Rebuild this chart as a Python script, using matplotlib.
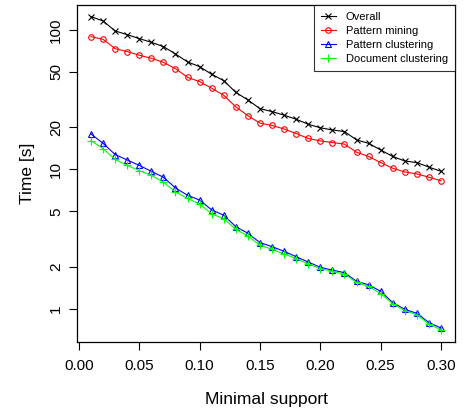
import matplotlib
matplotlib.use("Agg")
import matplotlib.pyplot as plt
from matplotlib.ticker import FixedLocator, NullLocator

plt.rcParams['font.family'] = ['Liberation Sans', 'DejaVu Sans']

# minimal support thresholds
support = [0.01, 0.02, 0.03, 0.04, 0.05, 0.06, 0.07, 0.08, 0.09, 0.10,
           0.11, 0.12, 0.13, 0.14, 0.15, 0.16, 0.17, 0.18, 0.19, 0.20,
           0.21, 0.22, 0.23, 0.24, 0.25, 0.26, 0.27, 0.28, 0.29, 0.30]

# running times in seconds
overall = [124.6, 116, 98.4, 92.6, 86.7, 81.6, 76, 67.3, 59, 54.6,
           48.1, 43.3, 35.7, 31.5, 27.3, 26, 24.5, 22.9, 21.1, 19.9,
           19.2, 18.7, 16.3, 15.4, 13.8, 12.4, 11.5, 11.2, 10.4, 9.7]
pattern_mining = [89.5, 85.7, 73.5, 70, 65.9, 62.7, 58.6, 52.8, 45.8, 42.6,
                  38.2, 34, 28.1, 24.3, 21.5, 20.7, 19.5, 18.1, 16.7, 16,
                  15.6, 15.2, 13.3, 12.4, 11.2, 10.2, 9.6, 9.3, 8.8, 8.3]
pattern_clustering = [17.97, 15.4, 12.8, 11.7, 10.7, 9.7, 8.8, 7.37, 6.53, 6.04,
                      5.13, 4.7, 3.89, 3.49, 2.99, 2.80, 2.59, 2.37, 2.17, 1.99,
                      1.90, 1.82, 1.58, 1.49, 1.34, 1.11, 0.995, 0.93, 0.80, 0.73]
document_clustering = [16.1, 14.1, 11.8, 10.7, 9.8, 9.1, 8.1, 6.9, 6.2, 5.66,
                       4.8, 4.44, 3.72, 3.34, 2.86, 2.68, 2.48, 2.30, 2.10, 1.95,
                       1.86, 1.78, 1.55, 1.45, 1.29, 1.09, 0.975, 0.91, 0.78, 0.71]

xticks = [0.00, 0.05, 0.10, 0.15, 0.20, 0.25, 0.30]
yticks = [1, 2, 5, 10, 20, 50, 100]

fig = plt.figure(figsize=(4.65, 4.12), dpi=100)
ax = fig.add_axes([77 / 465, 1 - 342 / 412, (455 - 77) / 465, (342 - 5) / 412])

lw = 0.8
ax.plot(support, overall, color='black', marker='x', ms=4, mew=0.8, lw=lw, label='Overall')
ax.plot(support, pattern_mining, color='#ff0000', marker='o', ms=4, mfc='none', mew=0.8, lw=lw,
        label='Pattern mining')
ax.plot(support, pattern_clustering, color='#0000ff', marker='^', ms=4.5, mfc='none', mew=0.8, lw=lw,
        label='Pattern clustering')
ax.plot(support, document_clustering, color='#00ff00', marker='+', ms=5.5, mew=0.8, lw=lw,
        label='Document clustering')

ax.set_yscale('log')
ax.set_xlim(-0.0016, 0.3116)
ax.set_ylim(0.58, 151)
ax.xaxis.set_major_locator(FixedLocator(xticks))
ax.yaxis.set_major_locator(FixedLocator(yticks))
ax.yaxis.set_minor_locator(NullLocator())
ax.set_xticklabels([f"{t:.2f}" for t in xticks])
ax.set_yticklabels([str(t) for t in yticks], rotation=90, va='center')

for s in ax.spines.values():
    s.set_linewidth(0.9)
ax.tick_params(axis='both', direction='out', length=6, width=0.8, labelsize=11)
ax.tick_params(axis='x', pad=6)
ax.tick_params(axis='y', pad=4)

ax.set_xlabel('Minimal support', fontsize=12.5, labelpad=14)
ax.set_ylabel('Time [s]', fontsize=12.5, labelpad=10)

leg = ax.legend(loc='upper right', fontsize=8, frameon=True, fancybox=False,
                borderaxespad=0, handlelength=1.35, handletextpad=0.9,
                labelspacing=0.36, borderpad=0.62)
leg.get_frame().set_edgecolor('black')
leg.get_frame().set_linewidth(0.8)

fig.savefig('out.png', dpi=100)
